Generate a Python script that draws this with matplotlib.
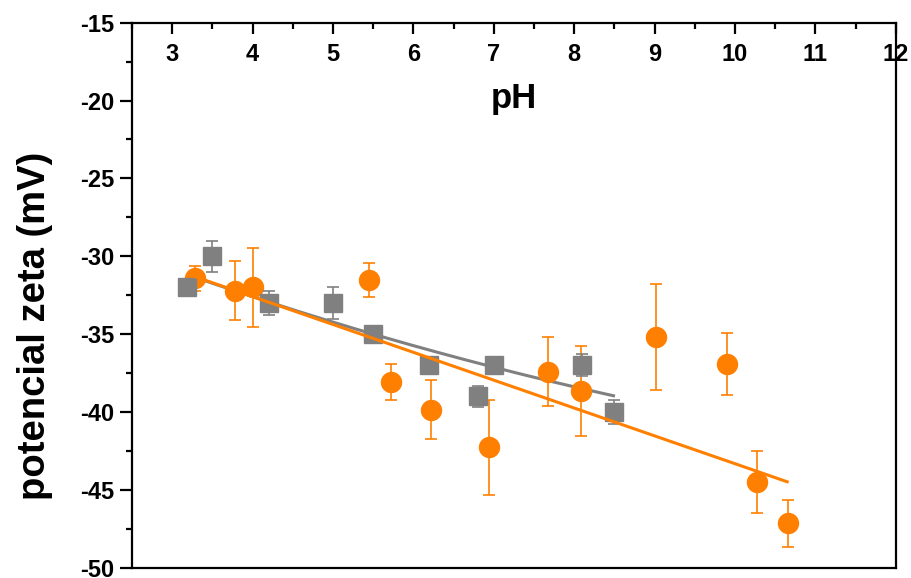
import numpy as np
import matplotlib
matplotlib.use("Agg")
import matplotlib.pyplot as plt
from matplotlib.ticker import MultipleLocator

plt.rcParams['font.family'] = ['Liberation Sans', 'DejaVu Sans']
plt.rcParams['font.weight'] = 'bold'
plt.rcParams['axes.unicode_minus'] = False

# Series 1 (grey squares)
ph_grey = [3.19, 3.50, 4.20, 5.00, 5.50, 6.20, 6.80, 7.00, 8.10, 8.50]
zeta_grey = [-32.0, -30.0, -33.0, -33.0, -35.0, -37.0, -39.0, -37.0, -37.0, -40.0]
err_grey = [0.3, 1.0, 0.8, 1.0, 0.2, 0.2, 0.65, 0.2, 0.7, 0.8]

# Series 2 (orange circles)
ph_orange = [3.28, 3.78, 4.00, 5.45, 5.72, 6.22, 6.94, 7.68, 8.09, 9.02, 9.90, 10.28, 10.66]
zeta_orange = [-31.4, -32.2, -32.0, -31.5, -38.06, -39.85, -42.27, -37.4, -38.65,
               -35.2, -36.94, -44.48, -47.15]
err_orange = [0.8, 1.9, 2.55, 1.1, 1.15, 1.9, 3.07, 2.2, 2.9, 3.4, 2.0, 2.0, 1.5]

# Fitted trend coefficients (highest power first)
fit_grey = [0.062, -2.1914, -24.822]      # quadratic
fit_orange = [-1.788, -25.44]             # linear
fit_range_grey = (3.2, 8.49)
fit_range_orange = (3.2, 10.65)

xticks = [3, 4, 5, 6, 7, 8, 9, 10, 11, 12]
yticks = [-50, -45, -40, -35, -30, -25, -20, -15]

GREY = '#808080'
ORANGE = '#FF8000'

fig = plt.figure(figsize=(9.12, 5.78), dpi=100)
ax = fig.add_axes([132 / 912, 1 - 567.7 / 578, (895.7 - 132) / 912, (567.7 - 22.7) / 578])

xg = np.linspace(*fit_range_grey, 200)
ax.plot(xg, np.polyval(fit_grey, xg), color=GREY, lw=2.2, zorder=1)

ax.errorbar(ph_orange, zeta_orange, yerr=err_orange, fmt='o', color=ORANGE,
            ms=14.4, mec=ORANGE, elinewidth=1.2, capsize=4.3, capthick=1.2, zorder=2)
ax.errorbar(ph_grey, zeta_grey, yerr=err_grey, fmt='s', color=GREY,
            ms=12.5, mec=GREY, elinewidth=1.2, capsize=4.3, capthick=1.2, zorder=3)

xo = np.linspace(*fit_range_orange, 200)
ax.plot(xo, np.polyval(fit_orange, xo), color=ORANGE, lw=2.2, zorder=4)

ax.set_xlim(2.5, 12)
ax.set_ylim(-50, -15)
ax.set_xticks(xticks)
ax.set_yticks(yticks)
ax.xaxis.set_minor_locator(MultipleLocator(0.5))
ax.yaxis.set_minor_locator(MultipleLocator(2.5))

for s in ax.spines.values():
    s.set_linewidth(1.6)

ax.tick_params(axis='x', which='both', top=True, bottom=False, labeltop=True,
               labelbottom=False, direction='in', labelsize=17, pad=-31, width=1.6)
ax.tick_params(axis='x', which='major', length=8)
ax.tick_params(axis='x', which='minor', length=4)
ax.tick_params(axis='y', which='both', direction='out', labelsize=17, width=1.6, pad=4)
ax.tick_params(axis='y', which='major', length=8.6)
ax.tick_params(axis='y', which='minor', length=4)

for lab in ax.get_xticklabels() + ax.get_yticklabels():
    lab.set_fontweight('bold')

ax.text(0.5, 0.83, 'pH', transform=ax.transAxes, ha='center', va='bottom',
        fontsize=25, fontweight='bold')
ax.set_ylabel('potencial zeta (mV)', fontsize=27.5, fontweight='bold')
ax.yaxis.set_label_coords(-0.1034, 0.4435)

fig.savefig('out.png', dpi=100)
